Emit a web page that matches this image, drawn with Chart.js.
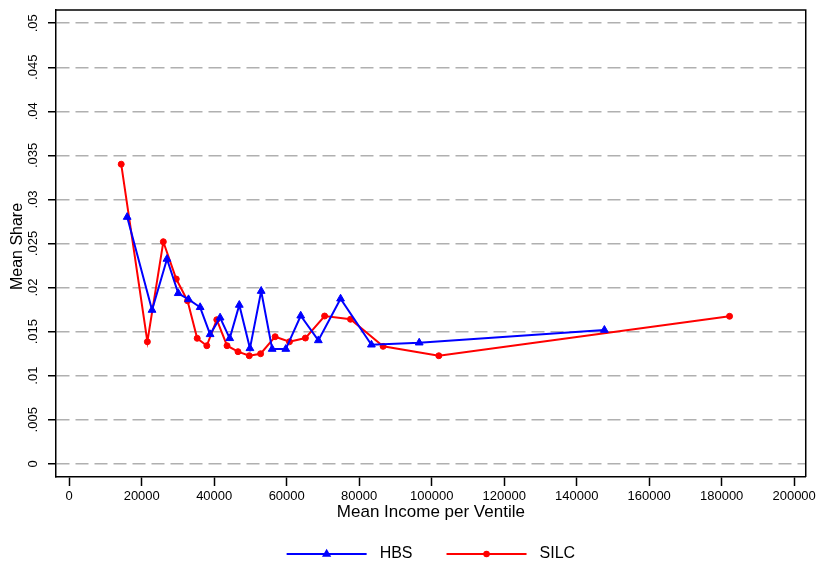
<!DOCTYPE html>
<html>
<head>
<meta charset="utf-8">
<script src="https://cdn.jsdelivr.net/npm/chart.js@4.4.1/dist/chart.umd.min.js"></script>
<style>
  html, body { margin: 0; padding: 0; background: #fff; }
</style>
</head>
<body>
<canvas id="chart" width="819" height="565"></canvas>
<script>
// Values
const hbsIncome = [15990, 22850, 26970, 30080, 32910, 36120, 38870, 41620, 44280, 46920,
                   49860, 52960, 55990, 59750, 63870, 68730, 74860, 83370, 96560, 147650];
const hbsShare = [0.0280, 0.01745, 0.02324, 0.01935, 0.01866, 0.01776, 0.01469, 0.01658, 0.01424, 0.01802,
                  0.0131, 0.0196, 0.01302, 0.01302, 0.0168, 0.0140, 0.01873, 0.01351, 0.01374, 0.01518];
const silcIncome = [14340, 21560, 25960, 29530, 32640, 35300, 37960, 40710, 43540, 46560,
                    49670, 52800, 56810, 60760, 65160, 70460, 77600, 86590, 101970, 182180];
const silcShare = [0.0340, 0.01385, 0.0252, 0.02097, 0.0185, 0.01424, 0.0134, 0.01635, 0.0134, 0.01272,
                   0.01226, 0.01249, 0.01442, 0.01385, 0.01427, 0.01677, 0.0164, 0.01333, 0.01226, 0.01674];

const xTicks = [0, 20000, 40000, 60000, 80000, 100000, 120000, 140000, 160000, 180000, 200000];
const yTicks = [0, 0.005, 0.01, 0.015, 0.02, 0.025, 0.03, 0.035, 0.04, 0.045, 0.05];
const yTickLabels = ['0', '.005', '.01', '.015', '.02', '.025', '.03', '.035', '.04', '.045', '.05'];

const seriesNames = ['HBS', 'SILC'];
const xTitle = 'Mean Income per Ventile';
const yTitle = 'Mean Share';

const FONT = '"Liberation Sans", Arial, sans-serif';

// frame, rotated y labels, axis titles and the legend keys
const decorPlugin = {
    id: 'decor',
    beforeDatasetsDraw(chart) {
        const { ctx, chartArea: a } = chart;
        ctx.save();
        ctx.strokeStyle = '#000';
        ctx.lineWidth = 1.5;
        ctx.beginPath();
        ctx.moveTo(a.left, a.top);
        ctx.lineTo(a.right, a.top);
        ctx.lineTo(a.right, a.bottom);
        ctx.stroke();
        ctx.restore();
    },
    afterDraw(chart) {
        const { ctx, chartArea: a } = chart;
        const yScale = chart.scales.y;
        ctx.save();
        ctx.fillStyle = '#000';
        ctx.textAlign = 'center';
        ctx.textBaseline = 'middle';

        // y tick labels, turned like the original
        ctx.font = '13px ' + FONT;
        yTicks.forEach((v, i) => {
            ctx.save();
            ctx.translate(a.left - 23, yScale.getPixelForValue(v));
            ctx.rotate(-Math.PI / 2);
            ctx.fillText(yTickLabels[i], 0, 0);
            ctx.restore();
        });

        // axis titles
        ctx.font = '16px ' + FONT;
        ctx.save();
        ctx.translate(18, (a.top + a.bottom) / 2 + 3);
        ctx.rotate(-Math.PI / 2);
        ctx.fillText(yTitle, 0, 0);
        ctx.restore();
        ctx.font = '17px ' + FONT;
        ctx.fillText(xTitle, (a.left + a.right) / 2, 512);

        // legend
        ctx.font = '16px ' + FONT;
        ctx.textAlign = 'left';
        const keyLen = 80, textGap = 13, itemGap = 34;
        const widths = chart.data.datasets.map(ds => keyLen + textGap + ctx.measureText(ds.label).width);
        const total = widths.reduce((s, w) => s + w, 0) + itemGap * (widths.length - 1);
        let lx = (a.left + a.right) / 2 - total / 2;
        const ly = 554;
        chart.data.datasets.forEach((ds, i) => {
            ctx.strokeStyle = ds.borderColor;
            ctx.fillStyle = ds.borderColor;
            ctx.lineWidth = 2;
            ctx.beginPath();
            ctx.moveTo(lx, ly);
            ctx.lineTo(lx + keyLen, ly);
            ctx.stroke();
            Chart.helpers.drawPoint(ctx, {
                pointStyle: ds.pointStyle, radius: ds.pointRadius * 0.75, borderWidth: 1, rotation: 0
            }, lx + keyLen / 2, ly);
            ctx.fill();
            ctx.fillStyle = '#000';
            ctx.fillText(ds.label, lx + keyLen + textGap, ly);
            lx += widths[i] + itemGap;
        });
        ctx.restore();
    }
};

const setTicks = values => axis => { axis.ticks = values.map(v => ({ value: v })); };

const ctx = document.getElementById('chart').getContext('2d');
const chart = new Chart(ctx, {
    type: 'scatter',
    data: {
        datasets: [{
            label: seriesNames[0],
            data: hbsIncome.map((x, i) => ({ x: x, y: hbsShare[i] })),
            showLine: true,
            borderColor: '#0000ff',
            backgroundColor: '#0000ff',
            borderWidth: 2,
            pointStyle: 'triangle',
            pointRadius: 4.5,
            pointBorderWidth: 1
        }, {
            label: seriesNames[1],
            data: silcIncome.map((x, i) => ({ x: x, y: silcShare[i] })),
            showLine: true,
            borderColor: '#ff0000',
            backgroundColor: '#ff0000',
            borderWidth: 2,
            pointStyle: 'circle',
            pointRadius: 3,
            pointBorderWidth: 1
        }]
    },
    options: {
        responsive: false,
        animation: false,
        layout: { padding: { top: 10, right: 11, left: 0, bottom: 0 } },
        plugins: {
            legend: { display: false },
            tooltip: { enabled: false }
        },
        scales: {
            x: {
                type: 'linear',
                min: -3650,
                max: 203200,
                afterBuildTicks: setTicks(xTicks),
                afterFit: s => { s.height = 88; },
                grid: { drawOnChartArea: false, tickLength: 9, tickColor: '#000', tickWidth: 1.5 },
                border: { color: '#000', width: 1.5 },
                ticks: {
                    padding: 3,
                    color: '#000',
                    maxRotation: 0,
                    autoSkip: false,
                    font: { family: FONT, size: 13 },
                    callback: v => String(v)
                }
            },
            y: {
                type: 'linear',
                min: -0.0015,
                max: 0.0515,
                afterBuildTicks: setTicks(yTicks),
                afterFit: s => { s.width = 56; },
                grid: { color: '#b0b0b0', lineWidth: 1.5, tickLength: 8, tickColor: '#000', tickWidth: 1.5, tickBorderDash: [] },
                border: { color: '#000', width: 1.5, dash: [13, 6] },
                ticks: { display: false }
            }
        }
    },
    plugins: [decorPlugin]
});
</script>
</body>
</html>
